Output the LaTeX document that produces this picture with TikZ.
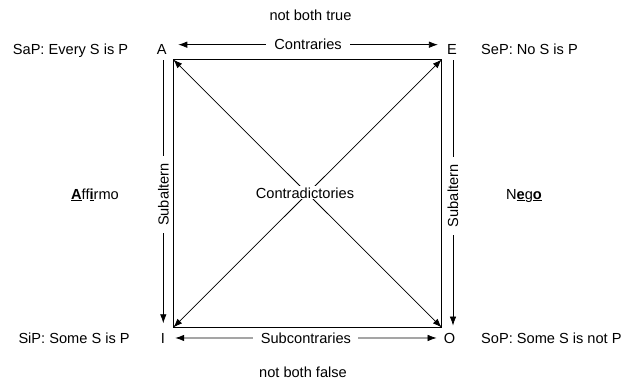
\documentclass[tikz,border=0pt]{standalone}
\usepackage{fontspec}
\setmainfont{Liberation Sans}
\usetikzlibrary{arrows.meta}
\begin{document}
\begin{tikzpicture}[x=1pt,y=-1pt,
  txt/.style={font=\fontsize{14.6}{17}\selectfont, inner sep=0pt},
  lbl/.style={txt, fill=white, inner xsep=8pt, inner ysep=1pt},
  conn/.style={line width=0.75pt, draw=black},
  onetip/.style={-{Latex[length=9pt,width=6.5pt]}},
  twotips/.style={{Latex[length=9pt,width=6.5pt]}-{Latex[length=9pt,width=6.5pt]}}]
\useasboundingbox (0,0) rectangle (622,383);
% texts
\node[txt,anchor=base] (ntrue) at (310.5,20.5) {not both true};
\node[txt,anchor=base] (nfalse) at (303,377) {not both false};
\node[txt,anchor=base] (A) at (161.7,54) {A};
\node[txt,anchor=base] (E) at (452,54) {E};
\node[txt,anchor=base] (I) at (163,343) {I};
\node[txt,anchor=base] (O) at (449.5,343) {O};
\node[txt,anchor=base west] (sap) at (12.7,54) {SaP: Every S is P};
\node[txt,anchor=base west] (sep) at (481,54) {SeP: No S is P};
\node[txt,anchor=base west] (sip) at (18.3,343) {SiP: Some S is P};
\node[txt,anchor=base west] (sop) at (481,343) {SoP: Some S is not P};
\node[txt,anchor=base] (aff) at (95,199) {\underline{\textbf{A}}ff\underline{\textbf{i}}rmo};
\node[txt,anchor=base] (nego) at (524,199) {N\underline{\textbf{e}}g\underline{\textbf{o}}};
% square
\coordinate (c1) at (173.3,59.5);
\coordinate (c2) at (441.7,59.5);
\coordinate (c3) at (441.7,327.5);
\coordinate (c4) at (173.3,327.5);
\draw[conn] (c1) rectangle (c3);
% diagonals
\draw[conn,twotips] (c1) -- (c3);
\draw[conn,twotips] (c2) -- (c4);
\node[txt,fill=white,inner sep=1pt,anchor=base] (contra) at (305,198) {Contradictories};
% contraries / subcontraries
\draw[conn,twotips] ([shift={(11.5pt,4.3pt)}]A.east) -- ([shift={(-9pt,4.3pt)}]E.west)
  node[lbl,midway] (contr) {Contraries};
\draw[conn,twotips] ([shift={(10pt,0pt)}]I.east) -- ([shift={(-7pt,0pt)}]O.west)
  node[lbl,midway,inner xsep=7.5pt] (subc) {Subcontraries};
% subalterns
\draw[conn,onetip] ([shift={(1.6pt,-6pt)}]A.south) -- ([shift={(0.3pt,9.5pt)}]I.north)
  node[lbl,pos=0.511,rotate=90,inner xsep=7.5pt] (subl) {Subaltern};
\draw[conn,onetip] ([shift={(1pt,-6pt)}]E.south) -- ([shift={(3.5pt,7pt)}]O.north)
  node[lbl,pos=0.511,rotate=90,inner xsep=7.5pt] (subr) {Subaltern};
\end{tikzpicture}
\end{document}
